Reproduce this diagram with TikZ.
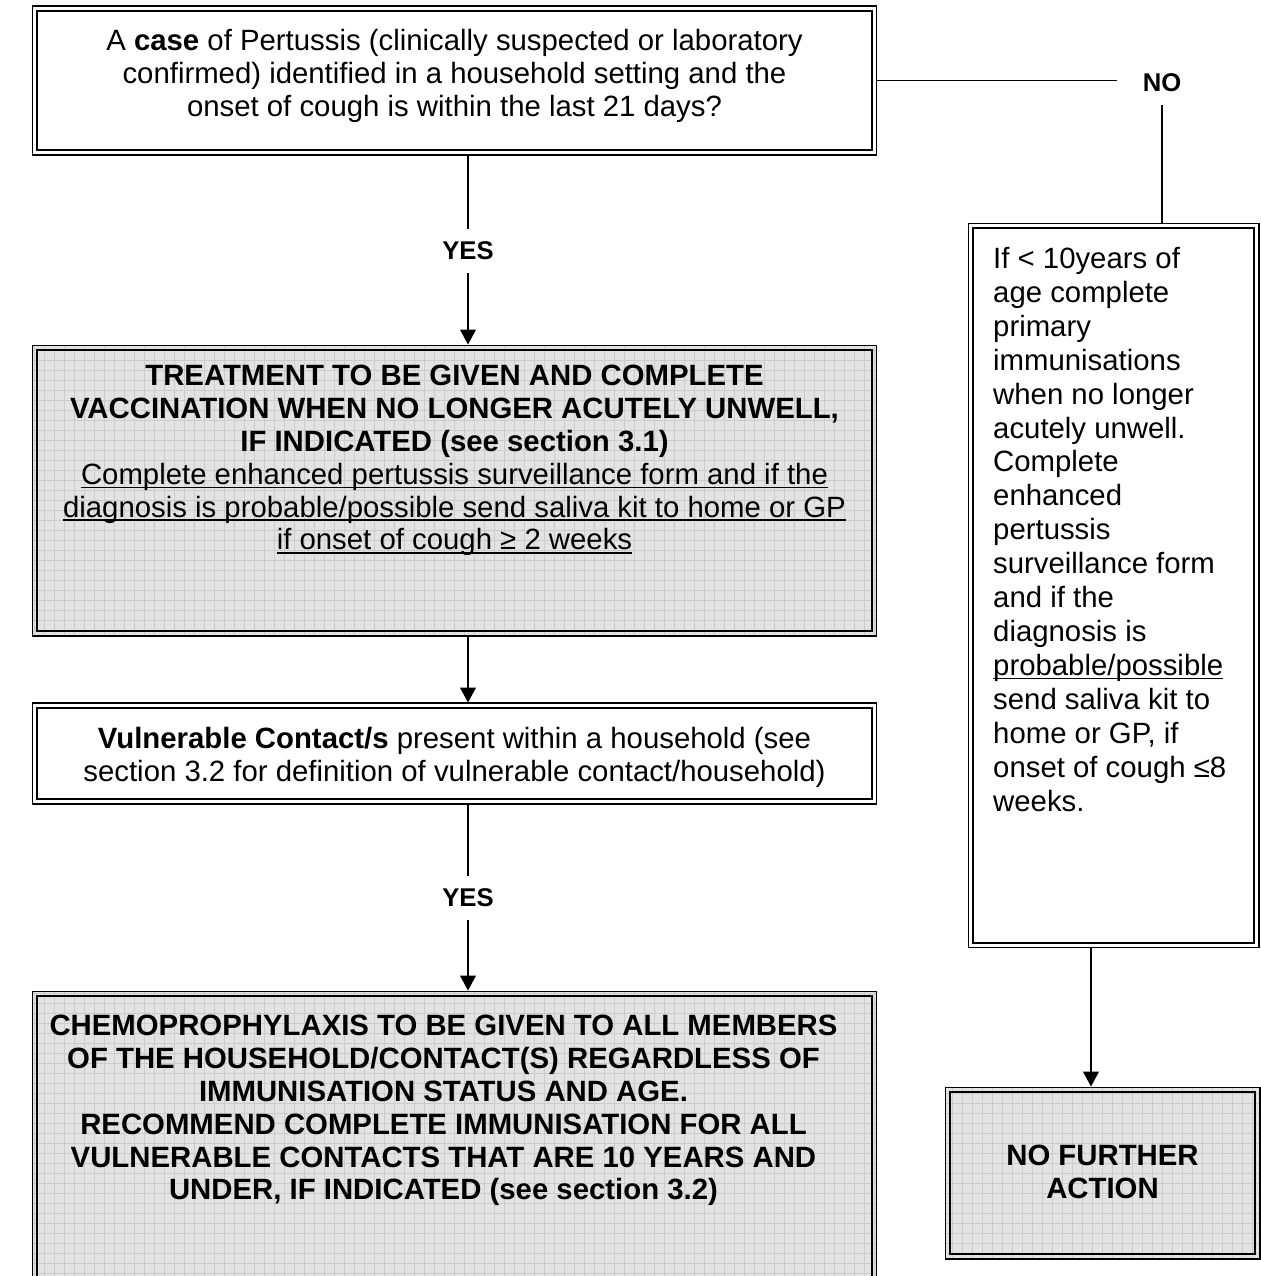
\documentclass[tikz,border=0pt]{standalone}
\usepackage{fontspec}
\setmainfont{Liberation Sans}
\usepackage{tikz}
\usetikzlibrary{arrows.meta,positioning}
\newcommand{\innerframe}{\draw[line width=1.5pt] ([shift={(2.8pt,-2.8pt)}]path picture bounding box.north west) rectangle ([shift={(-2.8pt,2.8pt)}]path picture bounding box.south east);}
\newcommand{\undl}[1]{\setbox0\hbox{#1}\rlap{\rule[-2.3pt]{\wd0}{0.95pt}}\box0}
\tikzset{
dbox/.style = {draw, line width=0.6pt, fill=white, rectangle, inner sep=0pt, path picture={\innerframe}},
sbox/.style = {dbox, fill=gray!22, path picture={\draw[black!20, line width=0.4pt, step=0.2cm] (path picture bounding box.south west) grid (path picture bounding box.north east); \innerframe}},
txt/.style  = {inner sep=0pt, align=center, font=\fontsize{16.7}{18.7}\selectfont},
btxt/.style = {txt, font=\fontsize{16.7}{18.7}\selectfont\bfseries},
lab/.style  = {inner sep=7pt, font=\fontsize{14.6}{16}\selectfont\bfseries},
arr/.style  = {-{Triangle[length=8.5pt, width=9pt]}, line width=0.8pt}
}

\begin{document}
\begin{tikzpicture}[x=0.02cm, y=-0.02cm, line width=0.8pt]
  \useasboundingbox (0,0) rectangle (1261,1276);

  \node [dbox, minimum width=16.9cm, minimum height=2.98cm]  (case)   at (454.5,80.5)  {};
  \node [sbox, minimum width=16.9cm, minimum height=5.82cm]  (treat)  at (454.5,490.5) {};
  \node [dbox, minimum width=16.9cm, minimum height=2.02cm]  (vuln)   at (454.5,753.5) {};
  \node [sbox, minimum width=16.9cm, minimum height=6.1cm]   (chemo)  at (454.5,1143.5) {};
  \node [dbox, minimum width=5.82cm, minimum height=14.5cm]  (advice) at (1113.5,585.5) {};
  \node [sbox, minimum width=6.3cm, minimum height=3.44cm]   (nfa)    at (1102.5,1173) {};

  \node [lab]                               (yes1) at (468,251)  {YES};
  \node [lab]                               (yes2) at (468,898)  {YES};
  \node [lab, inner xsep=14pt]              (no)   at (1162,83)  {NO};

  \node [txt, below=0.46cm of case.north]   (casetxt)  {A \textbf{case} of Pertussis (clinically suspected or laboratory\\
    confirmed) identified in a household setting and the\\
    onset of cough is within the last 21 days?};
  \node [txt, below=0.4cm of treat.north]   (treattxt) {\textbf{TREATMENT TO BE GIVEN AND COMPLETE}\\
    \textbf{VACCINATION WHEN NO LONGER ACUTELY UNWELL,}\\
    \textbf{IF INDICATED (see section 3.1)}\\
    \undl{Complete enhanced pertussis surveillance form and if the}\\
    \undl{diagnosis is probable/possible send saliva kit to home or GP}\\
    \undl{if onset of cough ≥ 2 weeks}};
  \node [txt, below=0.48cm of vuln.north]   (vulntxt)  {\textbf{Vulnerable Contact/s} present within a household (see\\
    section 3.2 for definition of vulnerable contact/household)};
  \node [btxt, below=0.48cm of chemo.north, xshift=-0.22cm] (chemotxt) {CHEMOPROPHYLAXIS TO BE GIVEN TO ALL MEMBERS\\
    OF THE HOUSEHOLD/CONTACT(S) REGARDLESS OF\\
    IMMUNISATION STATUS AND AGE.\\
    RECOMMEND COMPLETE IMMUNISATION FOR ALL\\
    VULNERABLE CONTACTS THAT ARE 10 YEARS AND\\
    UNDER, IF INDICATED (see section 3.2)};
  \node [txt, align=left, font=\fontsize{16.7}{19.3}\selectfont, below right=0.48cm and 0.5cm of advice.north west] (advicetxt) {If < 10years of\\
    age complete\\ primary\\ immunisations\\ when no longer\\ acutely unwell.\\
    Complete\\ enhanced\\ pertussis\\ surveillance form\\ and if the\\ diagnosis is\\
    \undl{probable/possible}\\ send saliva kit to\\ home or GP, if\\
    onset of cough ≤8\\ weeks.};
  \node [btxt, below=1.16cm of nfa.north]   (nfatxt)   {NO FURTHER\\ ACTION};

  \draw (case.south -| yes1) -- (yes1);
  \draw [arr] (yes1) -- (yes1 |- treat.north);
  \draw [arr] (treat.south -| yes1) -- (vuln.north -| yes1);
  \draw (vuln.south -| yes2) -- (yes2);
  \draw [arr] (yes2) -- (yes2 |- chemo.north);
  \draw (case.east) -- (case.east -| no.west);
  \draw (no.south) -- (no.south |- advice.north);
  \draw [arr] ([xshift=-0.45cm]advice.south) -- ([xshift=-0.45cm]advice.south |- nfa.north);
\end{tikzpicture}
\end{document}
